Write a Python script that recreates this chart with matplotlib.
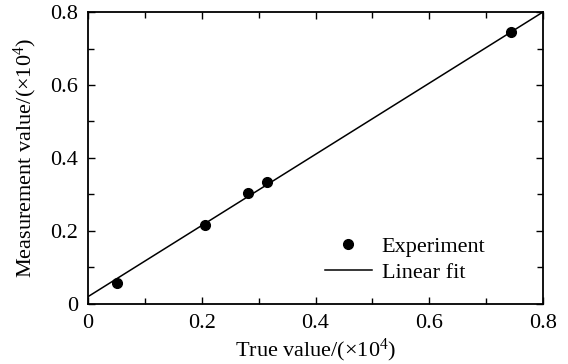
import matplotlib
matplotlib.use("Agg")
import matplotlib.pyplot as plt
import numpy as np

plt.rcParams['font.family'] = ['Liberation Serif', 'DejaVu Serif']
plt.rcParams['mathtext.fontset'] = 'custom'
plt.rcParams['mathtext.rm'] = 'Liberation Serif'
plt.rcParams['mathtext.it'] = 'Liberation Serif:italic'

true_vals = [0.051, 0.206, 0.281, 0.315, 0.744]
meas_vals = [0.058, 0.217, 0.305, 0.334, 0.745]
fit_intercept = 0.02
fit_slope = 0.975
ticks = [0, 0.2, 0.4, 0.6, 0.8]
tick_labels = ['0', '0.2', '0.4', '0.6', '0.8']

fig = plt.figure(figsize=(5.68, 3.64), dpi=100)
ax = fig.add_axes([0.155, 0.165, 0.801, 0.802])

xf = np.array([0, 0.8])
ax.plot(xf, fit_intercept + fit_slope * xf, color='black', lw=1.1, label='Linear fit', zorder=2)
ax.plot(true_vals, meas_vals, 'o', color='black', ms=7, label='Experiment', zorder=3, linestyle='none')

ax.set_xlim(0, 0.8)
ax.set_ylim(0, 0.8)
ax.set_xticks(ticks)
ax.set_xticklabels(tick_labels)
ax.set_yticks(ticks)
ax.set_yticklabels(tick_labels)
ax.set_xticks(np.arange(0.1, 0.8, 0.2), minor=True)
ax.set_yticks(np.arange(0.1, 0.8, 0.2), minor=True)
ax.tick_params(which='both', direction='in', top=True, right=True, labelsize=16, width=1)
ax.tick_params(which='major', length=5, pad=7)
ax.tick_params(which='minor', length=4)
for s in ax.spines.values():
    s.set_linewidth(1.3)

ax.set_xlabel(r'True value/($\times$10$^{4}$)', fontsize=16, labelpad=3)
ax.set_ylabel(r'Measurement value/($\times$10$^{4}$)', fontsize=16, labelpad=8)

h, l = ax.get_legend_handles_labels()
ax.legend([h[1], h[0]], [l[1], l[0]], loc='upper left', bbox_to_anchor=(0.521, 0.232),
          frameon=False, fontsize=16, handlelength=2.1, handletextpad=0.45,
          labelspacing=0.25, borderaxespad=0, borderpad=0)

fig.savefig('out.png', dpi=100)
